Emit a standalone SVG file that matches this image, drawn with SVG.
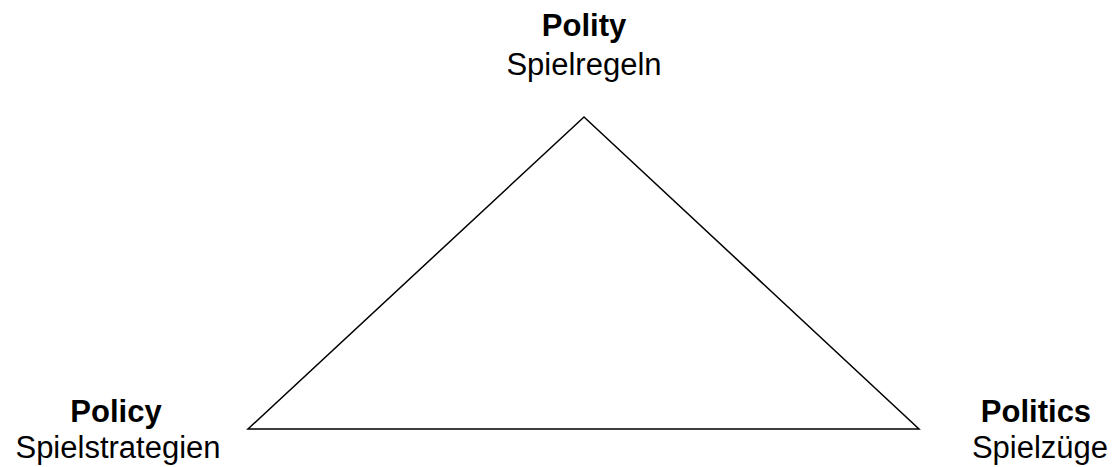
<svg xmlns="http://www.w3.org/2000/svg" width="1116" height="467" viewBox="0 0 1116 467">
<style>
text{font-family:"Liberation Sans",Arial,sans-serif;font-size:31px;fill:#000;text-anchor:middle}
.b{font-weight:bold}
</style>
<rect width="1116" height="467" fill="#fff"/>
<g id="connectors">
<polygon points="584,117 248,429 919,429" fill="none" stroke="#000" stroke-width="1.5"/>
</g>
<g id="polity"><text class="b" x="584" y="36">Polity</text><text x="584" y="75">Spielregeln</text></g>
<g id="policy"><text class="b" x="116" y="422">Policy</text><text x="118" y="458">Spielstrategien</text></g>
<g id="politics"><text class="b" x="1036" y="422">Politics</text><text x="1040" y="458">Spielzüge</text></g>
</svg>
